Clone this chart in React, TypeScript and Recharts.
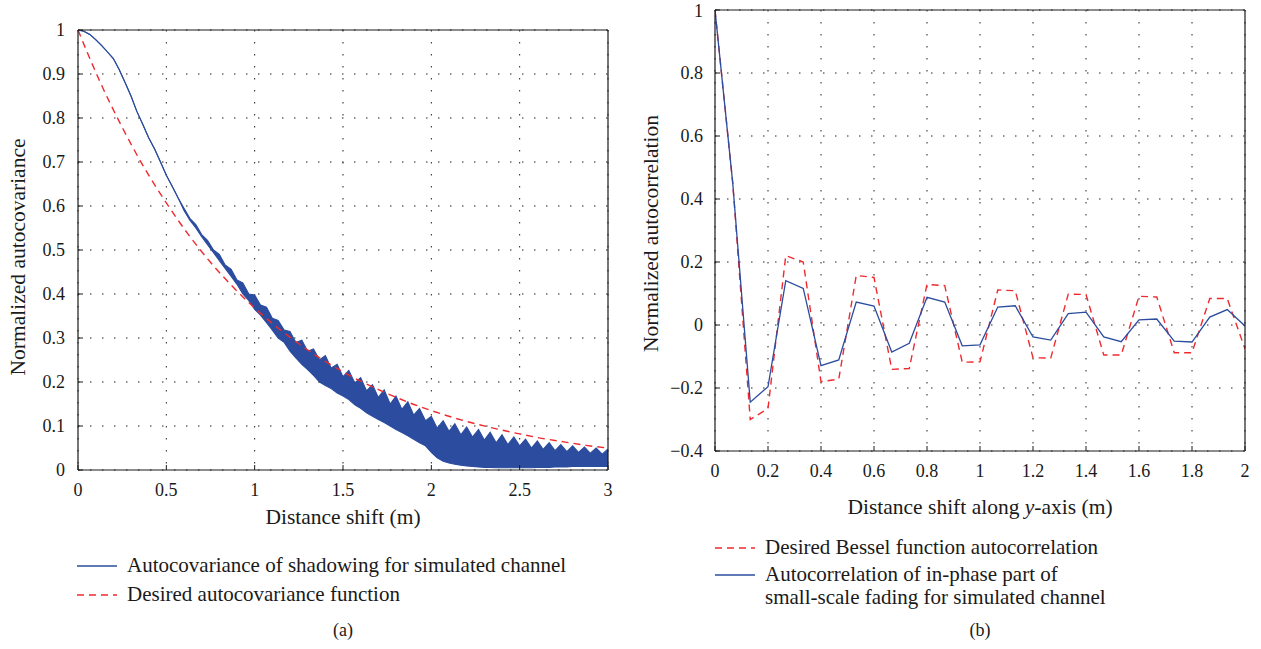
import { ComposedChart, LineChart, Line, Area, XAxis, YAxis, CartesianGrid } from 'recharts'

const FONT = '"Liberation Serif", "Times New Roman", serif'
const BLUE = '#2b4c9f'
const RED = '#ee2a2e'
const INK = '#1a1a1a'

// (a) autocovariance of shadowing, band (upper / lower edge)
const shadowX = [
  0, 0.033, 0.067, 0.1, 0.133, 0.167, 0.2, 0.233, 0.267, 0.3, 0.333, 0.367, 0.4, 0.433, 0.467, 0.5,
  0.533, 0.567, 0.6, 0.633, 0.667, 0.7, 0.733, 0.767, 0.8, 0.833, 0.867, 0.9, 0.933, 0.967, 1,
  1.033, 1.067, 1.1, 1.133, 1.167, 1.2, 1.233, 1.267, 1.3, 1.333, 1.367, 1.4, 1.433, 1.467, 1.5,
  1.533, 1.567, 1.6, 1.633, 1.667, 1.7, 1.733, 1.767, 1.8, 1.833, 1.867, 1.9, 1.933, 1.967, 2,
  2.033, 2.067, 2.1, 2.133, 2.167, 2.2, 2.233, 2.267, 2.3, 2.333, 2.367, 2.4, 2.433, 2.467, 2.5,
  2.533, 2.567, 2.6, 2.633, 2.667, 2.7, 2.733, 2.767, 2.8, 2.833, 2.867, 2.9, 2.933, 2.967, 3,
]
const shadowHi = [
  1, 0.997, 0.99, 0.978, 0.965, 0.95, 0.935, 0.91, 0.88, 0.85, 0.815, 0.785, 0.755, 0.73, 0.7, 0.67,
  0.645, 0.618, 0.595, 0.572, 0.558, 0.535, 0.522, 0.5, 0.49, 0.466, 0.456, 0.432, 0.425, 0.4, 0.398,
  0.375, 0.37, 0.345, 0.34, 0.318, 0.315, 0.29, 0.295, 0.27, 0.275, 0.25, 0.26, 0.232, 0.24, 0.212,
  0.226, 0.198, 0.21, 0.18, 0.194, 0.165, 0.182, 0.15, 0.168, 0.138, 0.155, 0.125, 0.14, 0.112, 0.122,
  0.095, 0.112, 0.088, 0.105, 0.08, 0.098, 0.075, 0.092, 0.068, 0.086, 0.062, 0.08, 0.058, 0.075, 0.055,
  0.07, 0.05, 0.066, 0.047, 0.062, 0.044, 0.058, 0.042, 0.055, 0.04, 0.052, 0.038, 0.05, 0.036, 0.048,
]
const shadowLo = [
  1, 0.997, 0.99, 0.978, 0.965, 0.95, 0.935, 0.91, 0.88, 0.85, 0.815, 0.785, 0.755, 0.73, 0.7, 0.67,
  0.645, 0.618, 0.59, 0.568, 0.55, 0.53, 0.512, 0.494, 0.476, 0.458, 0.44, 0.422, 0.4, 0.385, 0.365,
  0.352, 0.335, 0.318, 0.3, 0.29, 0.27, 0.255, 0.24, 0.228, 0.215, 0.2, 0.192, 0.185, 0.175, 0.168,
  0.16, 0.148, 0.14, 0.13, 0.122, 0.115, 0.108, 0.1, 0.092, 0.085, 0.078, 0.07, 0.062, 0.055, 0.04,
  0.028, 0.02, 0.016, 0.013, 0.011, 0.009, 0.008, 0.007, 0.006, 0.006, 0.005, 0.005, 0.005, 0.005, 0.005,
  0.005, 0.005, 0.006, 0.006, 0.006, 0.007, 0.007, 0.007, 0.008, 0.008, 0.008, 0.008, 0.008, 0.008, 0.008,
]
const desiredX = [0, 0.125, 0.25, 0.375, 0.5, 0.625, 0.75, 0.875, 1, 1.125, 1.25, 1.375, 1.5, 1.625, 1.75, 1.875, 2, 2.125, 2.25, 2.375, 2.5, 2.625, 2.75, 2.875, 3]
const desiredCov = [1, 0.882, 0.779, 0.687, 0.607, 0.535, 0.472, 0.417, 0.368, 0.325, 0.287, 0.253, 0.223, 0.197, 0.174, 0.153, 0.135, 0.119, 0.105, 0.093, 0.082, 0.072, 0.064, 0.056, 0.05]
const covTicksX = [0, 0.5, 1, 1.5, 2, 2.5, 3]
const covTicksY = [0, 0.1, 0.2, 0.3, 0.4, 0.5, 0.6, 0.7, 0.8, 0.9, 1]

// (b) autocorrelation along y
const lagX = [0, 0.067, 0.133, 0.2, 0.267, 0.333, 0.4, 0.467, 0.533, 0.6, 0.667, 0.733, 0.8, 0.867, 0.933, 1, 1.067, 1.133, 1.2, 1.267, 1.333, 1.4, 1.467, 1.533, 1.6, 1.667, 1.733, 1.8, 1.867, 1.933, 2]
const besselCorr = [1, 0.45, -0.3, -0.265, 0.22, 0.2, -0.18, -0.172, 0.157, 0.151, -0.141, -0.138, 0.129, 0.125, -0.118, -0.117, 0.111, 0.109, -0.104, -0.105, 0.098, 0.097, -0.095, -0.095, 0.091, 0.089, -0.088, -0.088, 0.084, 0.084, -0.076]
const inPhaseCorr = [1, 0.45, -0.245, -0.196, 0.141, 0.116, -0.129, -0.111, 0.073, 0.06, -0.086, -0.058, 0.088, 0.073, -0.066, -0.063, 0.057, 0.061, -0.038, -0.048, 0.036, 0.041, -0.038, -0.053, 0.016, 0.019, -0.051, -0.054, 0.025, 0.049, -0.003]
const corrTicksX = [0, 0.2, 0.4, 0.6, 0.8, 1, 1.2, 1.4, 1.6, 1.8, 2]
const corrTicksY = [-0.4, -0.2, 0, 0.2, 0.4, 0.6, 0.8, 1]

const covRows = shadowX.map((x, i) => ({ x, band: [shadowLo[i], shadowHi[i]] }))
const desiredRows = desiredX.map((x, i) => ({ x, cov: desiredCov[i] }))
const corrRows = lagX.map((x, i) => ({ x, bessel: besselCorr[i], inPhase: inPhaseCorr[i] }))

const tickStyle = { fontFamily: FONT, fontSize: 18, fill: INK }
const fmt = (v: number) => String(v).replace('-', '\u2212')

const xTitle = (dy: number, children: any) => (p: any) => {
  const vb = p.viewBox
  return (
    <text x={vb.x + vb.width / 2} y={vb.y + dy} textAnchor="middle" fontFamily={FONT} fontSize={21.5} fill={INK}>
      {children}
    </text>
  )
}

const yTitle = (dx: number, dy: number, text: string) => (p: any) => {
  const vb = p.viewBox
  const x = vb.x + dx
  const y = vb.y + vb.height / 2 + dy
  return (
    <text x={x} y={y} transform={`rotate(-90, ${x}, ${y})`} textAnchor="middle" dominantBaseline="central" fontFamily={FONT} fontSize={21.5} fill={INK}>
      {text}
    </text>
  )
}

function LegendRow({ left, top, color, dashed, lines }: { left: number; top: number; color: string; dashed?: boolean; lines: string[] }) {
  return (
    <div style={{ position: 'absolute', left, top, display: 'flex', alignItems: 'flex-start' }}>
      <svg width={50} height={24} style={{ flex: 'none' }}>
        <line x1={0} x2={40} y1={12} y2={12} stroke={color} strokeWidth={1.4} strokeDasharray={dashed ? '7 5' : undefined} />
      </svg>
      <div style={{ fontFamily: FONT, fontSize: 21, lineHeight: '23px', color: INK, whiteSpace: 'nowrap' }}>
        {lines.map((l) => (
          <div key={l}>{l}</div>
        ))}
      </div>
    </div>
  )
}

function ShadowingChart() {
  return (
    <ComposedChart width={640} height={540} margin={{ top: 30, right: 32, bottom: 0, left: 0 }}>
      <CartesianGrid stroke="#222" strokeDasharray="1.5 10.5" />
      <XAxis type="number" dataKey="x" domain={[0, 3]} ticks={covTicksX} height={70} allowDataOverflow
        axisLine={{ stroke: INK, strokeWidth: 1.2 }} tickLine={{ stroke: INK }} tickSize={-5} tickMargin={18}
        tick={tickStyle} label={xTitle(54, 'Distance shift (m)')} />
      <YAxis type="number" domain={[0, 1]} ticks={covTicksY} width={78} allowDataOverflow
        axisLine={{ stroke: INK, strokeWidth: 1.2 }} tickLine={{ stroke: INK }} tickSize={-5} tickMargin={18}
        tick={tickStyle} tickFormatter={fmt} label={yTitle(18, 7, 'Normalized autocovariance')} />
      <XAxis xAxisId="top" orientation="top" mirror type="number" domain={[0, 3]} ticks={covTicksX}
        tick={false} tickSize={5} axisLine={{ stroke: INK, strokeWidth: 1.2 }} tickLine={{ stroke: INK }} />
      <YAxis yAxisId="right" orientation="right" mirror type="number" domain={[0, 1]} ticks={covTicksY}
        tick={false} tickSize={5} axisLine={{ stroke: INK, strokeWidth: 1.2 }} tickLine={{ stroke: INK }} />
      <Area data={covRows} dataKey="band" type="linear" stroke={BLUE} strokeWidth={1.1} fill={BLUE} fillOpacity={1} isAnimationActive={false} />
      <Line data={desiredRows} dataKey="cov" type="monotone" stroke={RED} strokeWidth={1.4} strokeDasharray="7 5" dot={false} isAnimationActive={false} />
    </ComposedChart>
  )
}

function CorrelationChart() {
  return (
    <LineChart width={621} height={521} data={corrRows} margin={{ top: 10, right: 16, bottom: 0, left: 0 }}>
      <CartesianGrid stroke="#222" strokeDasharray="1.5 10.5" />
      <XAxis type="number" dataKey="x" domain={[0, 2]} ticks={corrTicksX} height={70} allowDataOverflow
        axisLine={{ stroke: INK, strokeWidth: 1.2 }} tickLine={{ stroke: INK }} tickSize={-5} tickMargin={18}
        tick={tickStyle} label={xTitle(63, <>Distance shift along <tspan fontStyle="italic">y</tspan>-axis (m)</>)} />
      <YAxis type="number" domain={[-0.4, 1]} ticks={corrTicksY} width={75} allowDataOverflow
        axisLine={{ stroke: INK, strokeWidth: 1.2 }} tickLine={{ stroke: INK }} tickSize={-5} tickMargin={17}
        tick={tickStyle} tickFormatter={fmt} label={yTitle(11, 3, 'Normalized autocorrelation')} />
      <XAxis xAxisId="top" orientation="top" mirror type="number" domain={[0, 2]} ticks={corrTicksX}
        tick={false} tickSize={5} axisLine={{ stroke: INK, strokeWidth: 1.2 }} tickLine={{ stroke: INK }} />
      <YAxis yAxisId="right" orientation="right" mirror type="number" domain={[-0.4, 1]} ticks={corrTicksY}
        tick={false} tickSize={5} axisLine={{ stroke: INK, strokeWidth: 1.2 }} tickLine={{ stroke: INK }} />
      <Line dataKey="bessel" type="linear" stroke={RED} strokeWidth={1.4} strokeDasharray="7 5" dot={false} isAnimationActive={false} />
      <Line dataKey="inPhase" type="linear" stroke={BLUE} strokeWidth={1.3} dot={false} isAnimationActive={false} />
    </LineChart>
  )
}

export default function App() {
  return (
    <div style={{ position: 'absolute', left: 0, top: 0, width: 1261, height: 649, background: '#fff' }}>
      <div style={{ position: 'absolute', left: 0, top: 0 }}>
        <ShadowingChart />
      </div>
      <div style={{ position: 'absolute', left: 640, top: 0 }}>
        <CorrelationChart />
      </div>

      <LegendRow left={77} top={554} color={BLUE} lines={['Autocovariance of shadowing for simulated channel']} />
      <LegendRow left={77} top={583} color={RED} dashed lines={['Desired autocovariance function']} />
      <LegendRow left={715} top={536} color={RED} dashed lines={['Desired Bessel function autocorrelation']} />
      <LegendRow left={715} top={563} color={BLUE} lines={['Autocorrelation of in-phase part of', 'small-scale fading for simulated channel']} />

      <div style={{ position: 'absolute', left: 323, top: 620, width: 40, textAlign: 'center', fontFamily: FONT, fontSize: 18, color: INK }}>(a)</div>
      <div style={{ position: 'absolute', left: 960, top: 620, width: 40, textAlign: 'center', fontFamily: FONT, fontSize: 18, color: INK }}>(b)</div>
    </div>
  )
}
